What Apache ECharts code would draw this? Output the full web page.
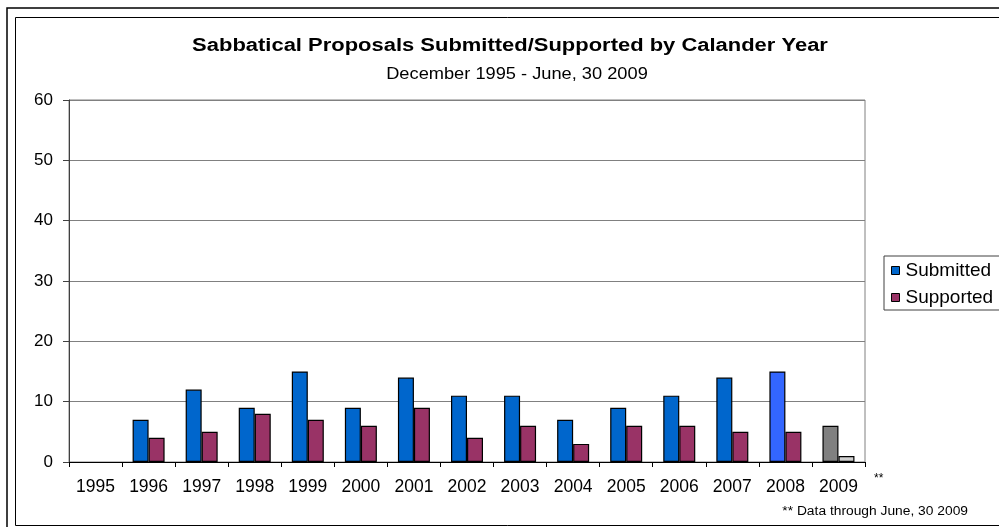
<!DOCTYPE html>
<html>
<head>
<meta charset="utf-8">
<script src="https://cdn.jsdelivr.net/npm/echarts@6/dist/echarts.min.js"></script>
<style>
html,body{margin:0;padding:0;background:#fff;}
#c{width:999px;height:527px;}
</style>
</head>
<body>
<div id="c"></div>
<script>
const years = ['1995','1996','1997','1998','1999','2000','2001','2002','2003','2004','2005','2006','2007','2008','2009'];
const submitted = [0, 7, 12, 9, 15, 9, 14, 11, 11, 7, 9, 11, 14, 15, 6];
const supported = [0, 4, 5, 8, 7, 6, 9, 4, 6, 3, 6, 6, 5, 5, 1];
const yTicks = [0, 10, 20, 30, 40, 50, 60];
const titleText = 'Sabbatical Proposals Submitted/Supported by Calander Year';
const subtitleText = 'December 1995 - June, 30 2009';
const footnoteText = '** Data through June, 30 2009';

const FONT = 'Liberation Sans, Arial, sans-serif';
const subColor = '#0066CC';
const supColor = '#993366';
// special highlight colours for particular years
const subOverride = {'2008': '#3366FF', '2009': '#808080'};
const supOverride = {'2009': '#D0D0D0'};

function build(vals, over) {
  return vals.map((v, i) => {
    const c = over[years[i]];
    const item = {value: v, itemStyle: {}};
    if (c) item.itemStyle.color = c;
    if (v === 0) item.itemStyle.borderWidth = 0;
    return item;
  });
}

const chart = echarts.init(document.getElementById('c'), null, {renderer: 'canvas'});
chart.setOption({
  animation: false,
  backgroundColor: '#fff',
  legend: {
    orient: 'vertical',
    left: 884, top: 256,
    padding: [5, 12, 3, 7],
    itemGap: 8,
    itemWidth: 8, itemHeight: 8,
    borderColor: '#404040', borderWidth: 1,
    itemStyle: {borderColor: '#000', borderWidth: 1},
    textStyle: {fontFamily: FONT, fontSize: 19, color: '#000', padding: [0,0,0,1]},
    data: [{name: 'Submitted', icon: 'rect'}, {name: 'Supported', icon: 'rect'}]
  },
  grid: {
    left: 69, right: 134, top: 100, bottom: 65,
    show: true, borderColor: '#808080', borderWidth: 1
  },
  xAxis: {
    type: 'category', data: years,
    axisLine: {lineStyle: {color: '#000', width: 1}},
    axisTick: {show: true, length: 5, lineStyle: {color: '#000'}},
    axisLabel: {fontFamily: FONT, fontSize: 17.5, color: '#000', margin: 16}
  },
  yAxis: {
    type: 'value', min: 0, max: 60, interval: 10,
    axisLine: {show: true, lineStyle: {color: '#404040'}},
    axisTick: {show: true, length: 6, inside: false, lineStyle: {color: '#404040'}},
    axisLabel: {fontFamily: FONT, fontSize: 17, color: '#000', margin: 16,
      formatter: v => yTicks.includes(v) ? String(v) : ''},
    splitLine: {lineStyle: {color: '#808080', width: 1}}
  },
  series: [
    {name: 'Submitted', type: 'bar', data: build(submitted, subOverride),
     barWidth: 16, barGap: '0%',
     itemStyle: {color: subColor, borderColor: '#000', borderWidth: 1.2}},
    {name: 'Supported', type: 'bar', data: build(supported, supOverride),
     barWidth: 16, barGap: '0%',
     itemStyle: {color: supColor, borderColor: '#000', borderWidth: 1.2}}
  ],
  graphic: [
    {type: 'rect', shape: {x: 7, y: 8, width: 1100, height: 600}, style: {fill: 'none', stroke: '#000', lineWidth: 1.5}, silent: true},
    {type: 'rect', shape: {x: 15.5, y: 17.5, width: 1100, height: 508}, style: {fill: 'none', stroke: '#000', lineWidth: 1}, silent: true},
    {type: 'text', x: 510, y: 46, scaleX: 1.22, silent: true,
     style: {text: titleText, font: 'bold 18px ' + FONT, fill: '#000', textAlign: 'center', textVerticalAlign: 'middle'}},
    {type: 'text', x: 517, y: 75, scaleX: 1.14, silent: true,
     style: {text: subtitleText, font: '16px ' + FONT, fill: '#000', textAlign: 'center', textVerticalAlign: 'middle'}},
    {type: 'text', x: 874, y: 473, silent: true, style: {text: '**', font: '12px ' + FONT, fill: '#000'}},
    {type: 'text', x: 968, y: 512, scaleX: 1.15, silent: true,
     style: {text: footnoteText, font: '12px ' + FONT, fill: '#000', textAlign: 'right', textVerticalAlign: 'middle'}}
  ]
});
</script>
</body>
</html>
